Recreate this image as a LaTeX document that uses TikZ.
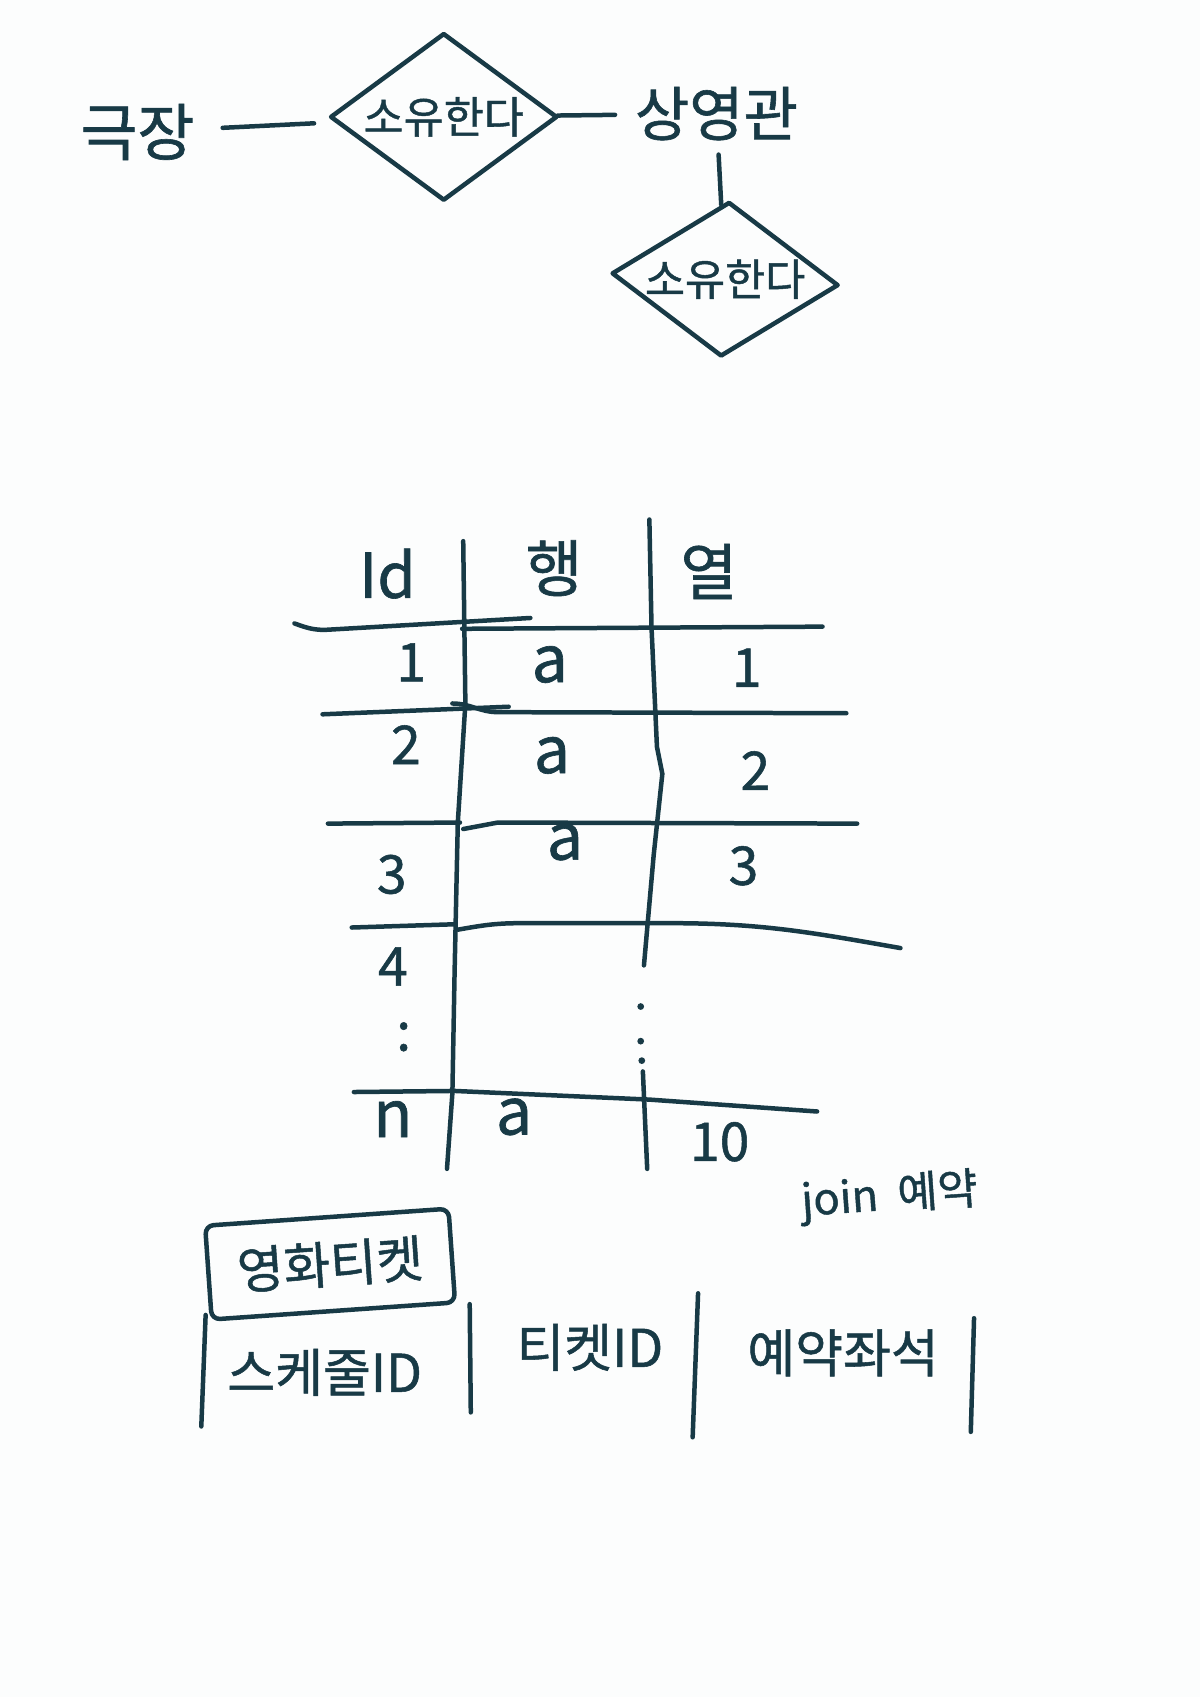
\documentclass[tikz,border=0pt]{standalone}
\usepackage{fontspec}
\newfontfamily\kfont[FakeBold=1]{Noto Sans CJK KR}
\usetikzlibrary{shapes.geometric}
\definecolor{ink}{RGB}{24,58,70}
\definecolor{paper}{RGB}{252,253,253}

\begin{document}
\begin{tikzpicture}[
    x=0.2706mm, y=-0.2706mm,
    pen/.style={draw=ink, line width=3.2pt, line cap=round, line join=round},
    word/.style={font={\kfont\fontsize{#1pt}{#1pt}\selectfont}, text=ink, inner sep=2pt},
    word/.default=36,
    rel/.style={diamond, pen, inner sep=0pt},
    link/.style={pen},
    head/.style={word=44},
    cell/.style={word=38},
    letter/.style={word=46},
  ]
  % Helper macro: \tcell{name}{x}{y}{text}
  \newcommand{\tcell}[4]{%
    \node[cell] (#1) at (#2,#3) {#4};%
  }
  % same for the a / n letters
  \newcommand{\lcell}[4]{%
    \node[letter] (#1) at (#2,#3) {#4};%
  }

  \useasboundingbox[fill=paper] (0,0) rectangle (1109,1568);

  % ER part
  \node[word=44] (theater) at (127,122) {극장};
  \node[rel, minimum width=56.8mm, minimum height=41.9mm,
        label={[word=31]center:소유한다}] (own1) at (410,108) {};
  \node[word=42] (hall) at (662,105) {상영관};
  \node[rel, minimum width=56.8mm, minimum height=38.7mm, rotate=-3,
        label={[word=31]center:소유한다}] (own2) at (670,258) {};

  \draw[link, shorten <=18pt, shorten >=15pt] (theater) -- (own1);
  \draw[link, shorten >=12pt] (own1) -- (hall);
  \draw[link, shorten <=8pt] (hall) -- (own2);

  % Column headers
  \node[head] (hid)  at (358,530) {Id};
  \node[head] (hrow) at (512,525) {행};
  \node[head] (hcol) at (655,528) {열};

  % Table rules
  \draw[pen] (272,576) to[out=-20,in=180] (300,582) -- (490,571);
  \draw[pen] (427,581) -- (760,579);
  \draw[pen] (298,660) -- (470,653);
  \draw[pen] (418,650) to[out=0,in=180] (460,658) -- (782,659);
  \draw[pen] (303,761) -- (425,760);
  \draw[pen] (428,766) -- (460,760) -- (792,761);
  \draw[pen] (325,857) -- (420,854);
  \draw[pen] (423,859) to[out=10,in=180] (480,853) -- (620,853)
    to[out=0,in=170] (832,876);
  \draw[pen] (327,1009) -- (420,1008) -- (600,1016) -- (755,1027);

  % Column rules
  \draw[pen] (428,500) -- (430,650) -- (423,760) -- (420,900)
    -- (418,1010) -- (413,1080);
  \draw[pen] (600,480) -- (602,580) -- (607,690) -- (612,715)
    -- (604,790) -- (595,892);
  \draw[pen] (594,990) -- (598,1080);
  \fill[ink] (592,930) circle (2.4pt);
  \fill[ink] (592,962) circle (2.4pt);
  \fill[ink] (593,980) circle (2.4pt);

  % Rows
  \tcell{id1}{380}{612}{1}  \lcell{row1}{508}{614}{a}  \tcell{col1}{690}{617}{1}
  \tcell{id2}{375}{688}{2}  \lcell{row2}{510}{698}{a}  \tcell{col2}{698}{712}{2}
  \tcell{id3}{362}{808}{3}  \lcell{row3}{522}{778}{a}  \tcell{col3}{687}{800}{3}
  \tcell{id4}{363}{893}{4}
  \tcell{idd}{373}{958}{:}
  \lcell{idn}{363}{1034}{n}  \lcell{rown}{475}{1032}{a}  \tcell{coln}{665}{1055}{10}

  \node[word=31, rotate=4] (join) at (822,1106) {join\hspace{0.45em}예약};

  % Ticket relation
  \node[word=36, pen, rounded corners=6pt, minimum width=61mm,
        minimum height=23.5mm, rotate=4] (ticket) at (305,1168) {영화티켓};
  \node[word=37] (sched) at (300,1268) {스케줄ID};
  \node[word=37] (tid)   at (545,1245) {티켓ID};
  \node[word=37] (seat)  at (779,1250) {예약좌석};
  \draw[pen] (190,1215) -- (186,1318);
  \draw[pen] (434,1205) -- (435,1305);
  \draw[pen] (645,1195) -- (640,1328);
  \draw[pen] (900,1218) -- (897,1323);
\end{tikzpicture}
\end{document}
